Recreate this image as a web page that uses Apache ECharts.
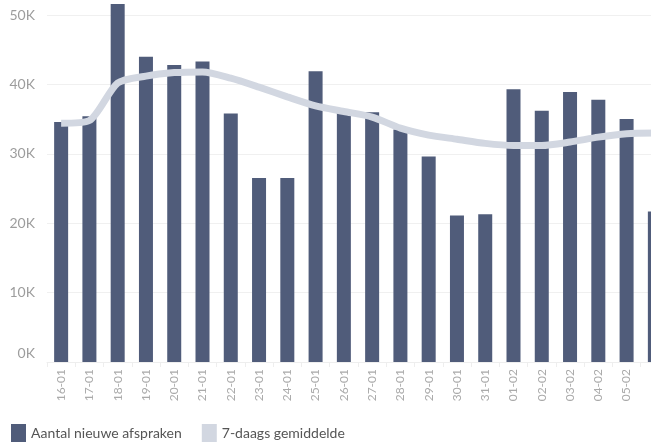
<!DOCTYPE html>
<html>
<head>
<meta charset="utf-8">
<script src="https://cdn.jsdelivr.net/npm/echarts@6/dist/echarts.min.js"></script>
<style>
html,body{margin:0;padding:0;overflow:hidden;background:#fff;}
#c{width:700px;height:446px;}
</style>
</head>
<body>
<div id="c"></div>
<script>
const categories = ['16-01','17-01','18-01','19-01','20-01','21-01','22-01','23-01','24-01','25-01','26-01','27-01','28-01','29-01','30-01','31-01','01-02','02-02','03-02','04-02','05-02','06-02'];
const nieuweAfspraken = [34600,35400,51600,44000,42800,43300,35800,26500,26500,41900,35900,36000,33500,29600,21100,21300,39300,36200,38900,37800,35000,21700];
const gemiddelde7 = [34400,34800,40200,41200,41700,41800,40900,39600,38200,36900,36100,35300,33700,32700,32100,31500,31200,31200,31700,32400,32900,33000];
const yTicks = [0,10000,20000,30000,40000,50000];

const chart = echarts.init(document.getElementById('c'), null, {renderer:'canvas'});
chart.setOption({
  animation:false,
  grid:{left:47,right:31,top:15,bottom:84,containLabel:false},
  legend:{
    left:11, top:424, padding:0, itemGap:20, itemWidth:15, itemHeight:18,
    textStyle:{fontFamily:'Lato',fontSize:14,color:'#555'},
    data:[{name:'Aantal nieuwe afspraken',icon:'rect'},{name:'7-daags gemiddelde',icon:'rect'}]
  },
  xAxis:{
    type:'category', data:categories,
    axisLine:{show:true,lineStyle:{color:'#eeeeee'}},
    axisTick:{show:true,lineStyle:{color:'#eeeeee'},length:5},
    axisLabel:{rotate:90,fontFamily:'Lato',fontSize:12,color:'#aaaaaa',margin:7}
  },
  yAxis:{
    type:'value', min:yTicks[0], max:yTicks[yTicks.length-1], interval:10000,
    axisLine:{show:false}, axisTick:{show:false},
    splitLine:{lineStyle:{color:'#f0f0f0'}},
    axisLabel:{fontFamily:'Lato',fontSize:14,color:'#9d9d9d',margin:12,
      formatter:function(v){return v===0?'{z|0K}':(v/1000)+'K';},
      rich:{z:{fontFamily:'Lato',fontSize:14,color:'#9d9d9d',padding:[0,0,18,0]}}
    }
  },
  series:[
    {name:'Aantal nieuwe afspraken',type:'bar',data:nieuweAfspraken,barWidth:14,clip:false,
     itemStyle:{color:'#505c7a'}},
    {name:'7-daags gemiddelde',type:'line',data:gemiddelde7,smooth:0.25,showSymbol:false,symbol:'none',clip:false,
     lineStyle:{color:'#d2d7e1',width:7},itemStyle:{color:'#d2d7e1'}}
  ]
});
</script>
</body>
</html>
